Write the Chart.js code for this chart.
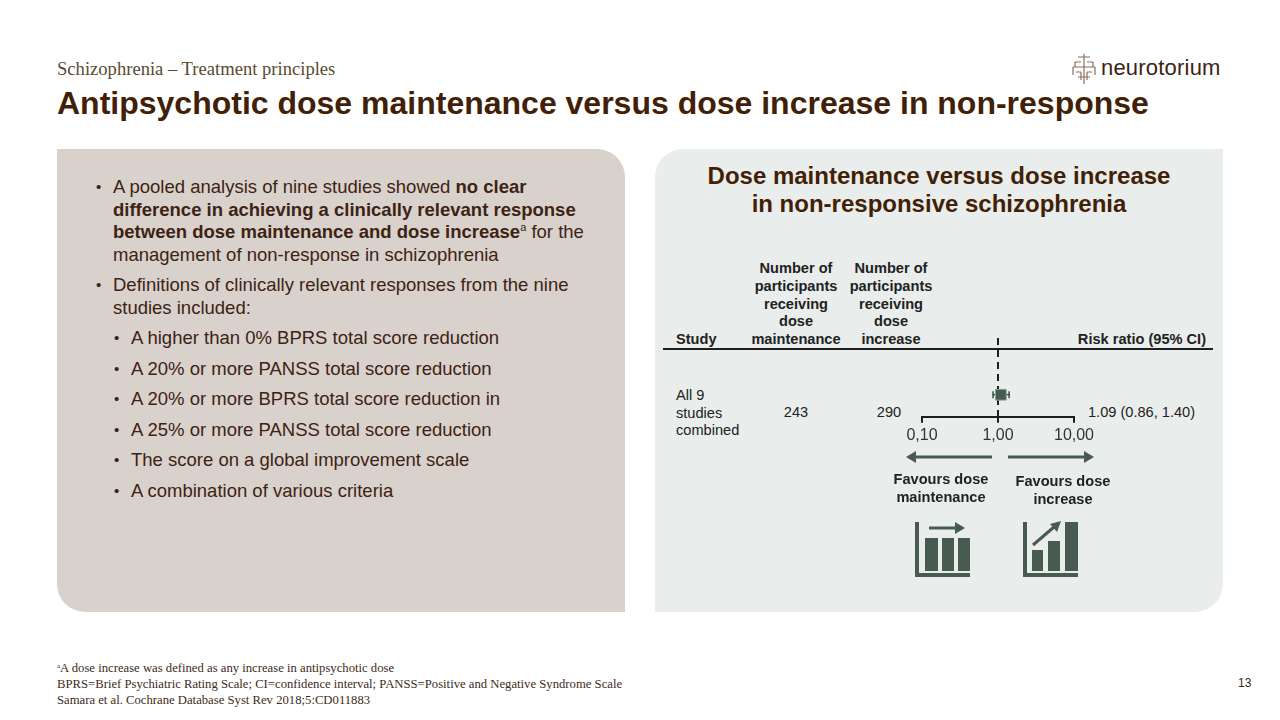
<!DOCTYPE html>
<html>
<head>
<meta charset="utf-8">
<script src="https://cdn.jsdelivr.net/npm/chart.js@4.4.1/dist/chart.umd.min.js"></script>
<style>
  body { margin: 0; background: #fff; }
  #slide { position: relative; width: 1280px; height: 720px; overflow: hidden; background: #fff;
           font-family: "Liberation Sans", Arial, sans-serif; color: #3d2314; }
  .abs { position: absolute; white-space: nowrap; }
  #kicker { left: 57px; top: 58px; font-family: "Liberation Serif", "Times New Roman", serif; font-size: 18.6px; color: #5b4a32; }
  #title { left: 57px; top: 85px; font-size: 32px; font-weight: bold; color: #421f06; }
  #panelL { left: 57px; top: 149px; width: 568px; height: 463px; background: #d9d1cb; border-radius: 0 28px 0 28px; }
  #panelR { left: 655px; top: 149px; width: 568px; height: 463px; background: #e9eeec; border-radius: 28px 0 28px 0; }
  #bullets { left: 96px; top: 176px; font-size: 18.5px; line-height: 22.5px; color: #3d2314; }
  .b1 { position: relative; padding-left: 17px; margin-bottom: 8px; }
  .b1::before { content: "•"; position: absolute; left: 0; top: 0; font-size: 15px; }
  .b2 { position: relative; margin-left: 18px; padding-left: 17px; margin-bottom: 8px; }
  .b2::before { content: "•"; position: absolute; left: 0; top: 0; font-size: 15px; }
  sup { font-size: 11px; line-height: 0; vertical-align: 7px; }
  #ptitle { left: 655px; width: 568px; top: 162px; text-align: center; font-size: 24px; font-weight: bold; line-height: 28px; color: #421f06; }
  .hd { font-size: 14.6px; font-weight: bold; color: #222; line-height: 17.8px; text-align: center; }
  .cell { font-size: 14.6px; color: #222; line-height: 17.6px; }
  #rule { left: 663px; top: 348px; width: 550px; height: 2px; background: #1e1e1e; }
  #chartBox { position: absolute; left: 860px; top: 320px; width: 280px; height: 140px; }
  .fav { font-size: 14.6px; font-weight: bold; color: #222; line-height: 18px; text-align: center; }
  #foot { left: 57px; top: 658px; font-family: "Liberation Serif", "Times New Roman", serif; font-size: 12.7px; line-height: 16px; color: #3d2b1a; }
  #page { left: 1238px; top: 676px; font-size: 12px; color: #3d2314; }
  #logoTxt { left: 1101px; top: 55px; font-size: 22px; color: #3d2314; letter-spacing: 0.2px; }
</style>
</head>
<body>
<div id="slide">
  <div class="abs" id="kicker">Schizophrenia – Treatment principles</div>
  <div class="abs" id="title">Antipsychotic dose maintenance versus dose increase in non-response</div>

  <svg class="abs" style="left:1070px;top:53px" width="28" height="32" viewBox="0 0 28 32">
    <g fill="none" stroke="#8a6e5c" stroke-width="1.2">
      <path d="M14 1 V31"/>
      <path d="M8 4 H20 M5 9 H11 M17 9 H23 M3 14 H25 M6 19 H11 M17 19 H22 M8 24 H20"/>
      <path d="M5 9 V14 M23 9 V14 M3 14 V22 M25 14 V22 M11 19 V27 M17 19 V27"/>
    </g>
  </svg>
  <div class="abs" id="logoTxt">neurotorium</div>

  <div class="abs" id="panelL"></div>
  <div class="abs" id="panelR"></div>

  <div class="abs" id="bullets">
    <div class="b1">A pooled analysis of nine studies showed <b>no clear</b><br><b>difference in achieving a clinically relevant response</b><br><b>between dose maintenance and dose increase</b><sup>a</sup> for the<br>management of non-response in schizophrenia</div>
    <div class="b1">Definitions of clinically relevant responses from the nine<br>studies included:</div>
    <div class="b2">A higher than 0% BPRS total score reduction</div>
    <div class="b2">A 20% or more PANSS total score reduction</div>
    <div class="b2">A 20% or more BPRS total score reduction in</div>
    <div class="b2">A 25% or more PANSS total score reduction</div>
    <div class="b2">The score on a global improvement scale</div>
    <div class="b2">A combination of various criteria</div>
  </div>

  <div class="abs" id="ptitle">Dose maintenance versus dose increase<br>in non-responsive schizophrenia</div>

  <div class="abs hd" id="hStudy" style="left:676px;top:331px;text-align:left">Study</div>
  <div class="abs hd" id="hMaint" style="left:736px;width:120px;top:260px">Number of<br>participants<br>receiving<br>dose<br>maintenance</div>
  <div class="abs hd" id="hInc" style="left:831px;width:120px;top:260px">Number of<br>participants<br>receiving<br>dose<br>increase</div>
  <div class="abs hd" id="hRR" style="left:1006px;width:200px;top:331px;text-align:right">Risk ratio (95% CI)</div>
  <div class="abs" id="rule"></div>

  <div class="abs cell" id="cStudy" style="left:676px;top:387px"></div>
  <div class="abs cell" id="cMaint" style="left:756px;width:80px;top:404px;text-align:center"></div>
  <div class="abs cell" id="cInc" style="left:849px;width:80px;top:404px;text-align:center"></div>
  <div class="abs cell" id="cRR" style="left:1088px;top:404px"></div>

  <div id="chartBox"><canvas id="forestChart"></canvas></div>

  <svg class="abs" style="left:870px;top:445px" width="260" height="24" viewBox="0 0 260 24">
    <g fill="#475b51" stroke="#475b51">
      <line x1="44" y1="12" x2="122" y2="12" stroke-width="3"/>
      <polygon points="36,12 46,6 46,18" stroke-width="0"/>
      <line x1="138" y1="12" x2="215" y2="12" stroke-width="3"/>
      <polygon points="224,12 214,6 214,18" stroke-width="0"/>
    </g>
  </svg>
  <div class="abs fav" style="left:881px;width:120px;top:470px">Favours dose<br>maintenance</div>
  <div class="abs fav" style="left:1003px;width:120px;top:472px">Favours dose<br>increase</div>

  <svg class="abs" style="left:900px;top:510px" width="200" height="75" viewBox="900 510 200 75">
    <g fill="#475b51" stroke="none">
      <rect x="915" y="522" width="4" height="55"/>
      <rect x="915" y="573" width="55" height="4"/>
      <rect x="925" y="538" width="13" height="33"/>
      <rect x="942" y="538" width="12" height="33"/>
      <rect x="958" y="538" width="12" height="33"/>
      <rect x="929" y="526.5" width="27" height="3"/>
      <polygon points="955,522 965,528 955,534"/>
      <rect x="1023" y="522" width="4" height="55"/>
      <rect x="1023" y="573" width="55" height="4"/>
      <rect x="1032" y="550" width="11" height="21"/>
      <rect x="1048" y="541" width="12" height="30"/>
      <rect x="1065" y="522" width="13" height="49"/>
      <line x1="1033" y1="545" x2="1054" y2="527" stroke="#475b51" stroke-width="3"/>
      <polygon points="1061,521 1057,532 1050,524"/>
    </g>
  </svg>

  <div class="abs" id="foot"><span style="font-size:7px;vertical-align:4px">a</span>A dose increase was defined as any increase in antipsychotic dose<br>BPRS=Brief Psychiatric Rating Scale; CI=confidence interval; PANSS=Positive and Negative Syndrome Scale<br>Samara et al. Cochrane Database Syst Rev 2018;5:CD011883</div>
  <div class="abs" id="page">13</div>
</div>

<script>
/* ---------- data ---------- */
const studyLabel   = ['All 9', 'studies', 'combined'];
const nMaintenance = [243];
const nIncrease    = [290];
const riskRatio    = [1.09];
const ciLow        = [0.86];
const ciHigh       = [1.40];
const tickValues   = [0.1, 1, 10];
const tickLabels   = ['0,10', '1,00', '10,00'];

/* ---------- table cells ---------- */
document.getElementById('cStudy').innerHTML = studyLabel.join('<br>');
document.getElementById('cMaint').textContent = nMaintenance[0];
document.getElementById('cInc').textContent = nIncrease[0];
document.getElementById('cRR').textContent =
  `${riskRatio[0].toFixed(2)} (${ciLow[0].toFixed(2)}, ${ciHigh[0].toFixed(2)})`;

/* ---------- forest plot ---------- */
const ROW_Y = 0.28;       // vertical place of the pooled row inside the plot
const INK   = '#1e1e1e';
const MARK  = '#475b51';

new Chart(document.getElementById('forestChart'), {
  type: 'scatter',
  data: {
    datasets: [
      {
        label: 'Estimate',
        data: riskRatio.map(v => ({ x: v, y: ROW_Y })),
        pointStyle: 'rect',
        pointRadius: 7.6,
        backgroundColor: MARK,
        borderColor: '#7fa592',
        borderWidth: 1,
        order: 0,
      },
      {
        label: 'CI',
        type: 'line',
        data: [{ x: ciLow[0], y: ROW_Y }, { x: ciHigh[0], y: ROW_Y }],
        showLine: true,
        borderColor: INK,
        borderWidth: 1,
        pointStyle: 'line',
        pointRotation: 90,
        pointRadius: 3.5,
        pointBorderColor: INK,
        pointBorderWidth: 1.2,
        order: 1,
      },
      {
        label: 'No effect',
        type: 'line',
        data: [{ x: 1, y: 1 }, { x: 1, y: 0 }],
        showLine: true,
        borderColor: INK,
        borderWidth: 2,
        borderDash: [7, 5],
        pointRadius: 0,
        order: 2,
      },
    ],
  },
  options: {
    responsive: true,
    maintainAspectRatio: false,
    animation: false,
    layout: { padding: { left: 62, right: 66, top: 18, bottom: 12 } },
    plugins: { legend: { display: false }, tooltip: { enabled: false } },
    scales: {
      x: {
        type: 'logarithmic',
        min: 0.1,
        max: 10,
        afterBuildTicks: s => { s.ticks = tickValues.map(v => ({ value: v })); },
        ticks: {
          autoSkip: false,
          maxRotation: 0,
          padding: 3,
          color: '#333',
          font: { family: 'Liberation Sans', size: 16 },
          callback: v => tickLabels[tickValues.indexOf(v)],
        },
        grid: { drawOnChartArea: false, tickLength: 6, color: INK, lineWidth: 2 },
        border: { display: true, color: INK, width: 2 },
      },
      y: { display: false, min: 0, max: 1 },
    },
  },
});
</script>
</body>
</html>
